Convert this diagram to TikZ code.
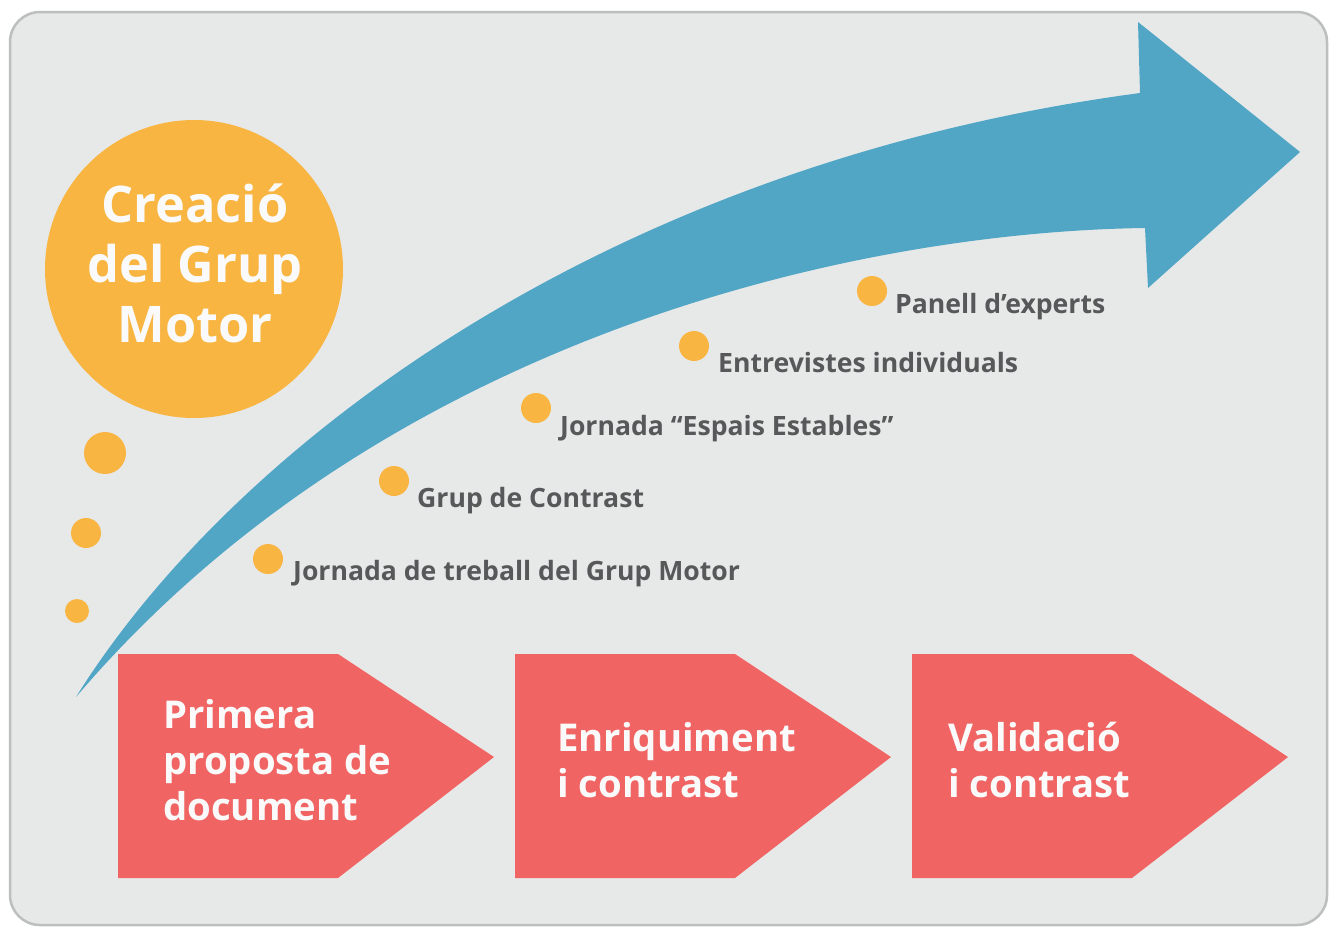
\documentclass[tikz,border=0pt]{standalone}
\usepackage{fontspec}
\setmainfont{Open Sans}
\definecolor{bggrey}{HTML}{E7E9E8}
\definecolor{bordergrey}{HTML}{BDBFBF}
\definecolor{arrowblue}{HTML}{51A5C5}
\definecolor{dotorange}{HTML}{F8B542}
\definecolor{stepred}{HTML}{F06463}
\definecolor{txtgrey}{HTML}{57585A}
\definecolor{txtwhite}{HTML}{FAFAFA}
\begin{document}
\begin{tikzpicture}[x=1pt,y=-1pt,
  lbl/.style={anchor=base west, inner sep=0pt, text=txtgrey, font=\bfseries\fontsize{26.6}{27}\selectfont},
  dot/.style={circle, fill=dotorange, inner sep=0pt, minimum size=#1},
  steptext/.style={anchor=base west, inner sep=0pt, align=left, text=txtwhite, font=\bfseries\fontsize{38.3}{46}\selectfont},
  stepshape/.style={fill=stepred}
]
\useasboundingbox (0,0) rectangle (1330,927);
\fill[white] (0,0) rectangle (1330,927);
\draw[line width=2.5pt, draw=bordergrey, fill=bggrey, rounded corners=30pt] (10,12) rectangle (1327,925);

% big orange circle
\node[dot=298pt] (creacio) at (194,269) {};
\node[inner sep=0pt, align=center, text=txtwhite, font=\bfseries\fontsize{50.5}{60}\selectfont] (creaciotxt) at (195,263.5) {Creació\\del Grup\\Motor};

% small dots left
\node[dot=42pt] (d1) at (105,453) {};
\node[dot=30pt] (d2) at (86,533) {};
\node[dot=24pt] (d3) at (77,611) {};

% blue arrow
\fill[arrowblue] (76,697) .. controls (230,450) and (600,165) .. (1140,93)
  -- (1138,22) -- (1300,152) -- (1148,288) -- (1145,228)
  .. controls (850,232) and (380,340) .. (76,697) -- cycle;

% list dots and labels
\node[dot=30pt] (l1) at (268,559) {};
\node[lbl] (t1) at (293,580) {Jornada de treball del Grup Motor};
\node[dot=30pt] (l2) at (394,481) {};
\node[lbl] (t2) at (417,507) {Grup de Contrast};
\node[dot=30pt] (l3) at (536,408) {};
\node[lbl] (t3) at (560,435) {Jornada “Espais Estables”};
\node[dot=30pt] (l4) at (694,346) {};
\node[lbl] (t4) at (718,372) {Entrevistes individuals};
\node[dot=30pt] (l5) at (872,291) {};
\node[lbl] (t5) at (895,313) {Panell d’experts};

% red steps
\fill[stepshape] (118,654) -- (338,654) -- (494,757) -- (338,878) -- (118,878) -- cycle;
\fill[stepshape] (515,654) -- (735,654) -- (891,757) -- (735,878) -- (515,878) -- cycle;
\fill[stepshape] (912,654) -- (1132,654) -- (1288,757) -- (1132,878) -- (912,878) -- cycle;

% multi-line nodes: base anchor = baseline of last line
\node[steptext] (s1) at (163,820) {Primera\\proposta de\\document};
\node[steptext] (s2) at (557,797) {Enriquiment\\i contrast};
\node[steptext] (s3) at (948,797) {Validació\\i contrast};
\end{tikzpicture}
\end{document}
